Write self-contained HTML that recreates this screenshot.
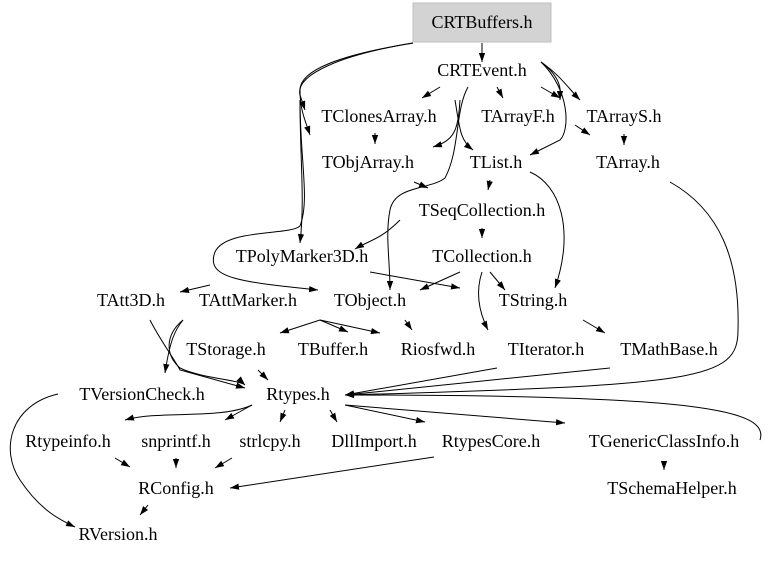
<!DOCTYPE html>
<html><head><meta charset="utf-8"><style>
html,body{margin:0;padding:0;background:#fff;}
svg text{font-family:"Liberation Serif",serif;font-size:18px;fill:#000;}
</style></head><body>
<svg width="768" height="560" viewBox="0 0 768 560" xmlns="http://www.w3.org/2000/svg">
<defs><marker id="a" viewBox="0 0 10 10" refX="10" refY="5" markerWidth="9" markerHeight="9" orient="auto" markerUnits="userSpaceOnUse"><path d="M0,1.5 L10,5 L0,8.5 z" fill="#000"/></marker></defs>
<rect x="413" y="3" width="138" height="39" fill="#d3d3d3" stroke="#bfbfbf"/>
<g fill="none" stroke="#000" stroke-width="1" marker-end="url(#a)">
<path d="M482,43 L482,62"/>
<path d="M413,43 C340,55 300,70 300,90 C300,110 305,120 310,135"/>
<path d="M413,43 C340,55 295,75 300,95 L305,110"/>
<path d="M541,62 C560,75 570,90 580,100"/>
<path d="M541,62 C565,80 560,95 560,100"/>
<path d="M541,62 C570,90 570,130 560,140 L530,155"/>
<path d="M300,100 C300,160 310,200 300,226 C290,236 220,228 214,255 C208,278 240,282 318,290"/>
<path d="M300,100 C300,160 305,200 300,243"/>
<path d="M440,87 L422,98"/>
<path d="M497,87 L503,98"/>
<path d="M541,87 L560,98"/>
<path d="M468,87 C455,110 460,150 445,178 C430,190 395,185 390,210 C385,235 390,260 390,290"/>
<path d="M460,100 C458,130 455,140 433,147"/>
<path d="M414,182 L428,188"/>
<path d="M455,100 C460,130 460,140 473,150"/>
<path d="M575,125 L590,135"/>
<path d="M624,134 L624,145"/>
<path d="M375,133 L375,144"/>
<path d="M490,180 L488,190"/>
<path d="M482,228 L482,238"/>
<path d="M530,172 C560,185 575,230 555,288"/>
<path d="M400,220 C380,240 370,240 355,249"/>
<path d="M460,272 L420,290"/>
<path d="M490,272 L505,290"/>
<path d="M370,272 L460,288"/>
<path d="M210,285 L180,292"/>
<path d="M482,272 C476,290 478,310 488,330"/>
<path d="M583,320 L605,333"/>
<path d="M320,320 L280,333"/>
<path d="M320,320 L348,332"/>
<path d="M320,320 L380,333"/>
<path d="M405,320 L412,330"/>
<path d="M183,320 C175,330 170,340 165,373"/>
<path d="M183,320 C165,335 165,355 180,368 C200,378 240,380 245,385"/>
<path d="M150,320 C160,340 175,360 180,370 L245,388"/>
<path d="M258,370 L268,380"/>
<path d="M497,368 L345,395"/>
<path d="M610,368 L345,395"/>
<path d="M670,182 C720,210 740,260 738,330 C738,380 700,385 345,395"/>
<path d="M760,440 C770,410 700,395 345,395"/>
<path d="M252,405 C220,420 160,410 125,420"/>
<path d="M252,405 L225,420"/>
<path d="M285,410 L280,422"/>
<path d="M330,410 L337,422"/>
<path d="M345,405 L425,422"/>
<path d="M345,405 L565,423"/>
<path d="M664,462 L664,470"/>
<path d="M58,394 C10,405 0,450 20,480 C40,510 60,520 75,527"/>
<path d="M115,458 L130,467"/>
<path d="M176,458 L176,468"/>
<path d="M232,458 L215,468"/>
<path d="M434,457 L230,488"/>
<path d="M148,505 L140,515"/>
</g>
<g text-anchor="middle">
<text x="482" y="28">CRTBuffers.h</text>
<text x="482" y="76">CRTEvent.h</text>
<text x="379" y="122">TClonesArray.h</text>
<text x="518" y="122">TArrayF.h</text>
<text x="624" y="122">TArrayS.h</text>
<text x="368" y="168">TObjArray.h</text>
<text x="496" y="168">TList.h</text>
<text x="628" y="168">TArray.h</text>
<text x="482" y="216">TSeqCollection.h</text>
<text x="482" y="262">TCollection.h</text>
<text x="302" y="262">TPolyMarker3D.h</text>
<text x="131" y="306">TAtt3D.h</text>
<text x="248" y="306">TAttMarker.h</text>
<text x="370" y="306">TObject.h</text>
<text x="533" y="306">TString.h</text>
<text x="226" y="355">TStorage.h</text>
<text x="333" y="355">TBuffer.h</text>
<text x="438" y="355">Riosfwd.h</text>
<text x="546" y="355">TIterator.h</text>
<text x="669" y="355">TMathBase.h</text>
<text x="142" y="400">TVersionCheck.h</text>
<text x="298" y="400">Rtypes.h</text>
<text x="68" y="447">Rtypeinfo.h</text>
<text x="176" y="447">snprintf.h</text>
<text x="270" y="447">strlcpy.h</text>
<text x="374" y="447">DllImport.h</text>
<text x="491" y="447">RtypesCore.h</text>
<text x="664" y="447">TGenericClassInfo.h</text>
<text x="176" y="494">RConfig.h</text>
<text x="672" y="494">TSchemaHelper.h</text>
<text x="118" y="540">RVersion.h</text>
</g>
</svg>
</body></html>
